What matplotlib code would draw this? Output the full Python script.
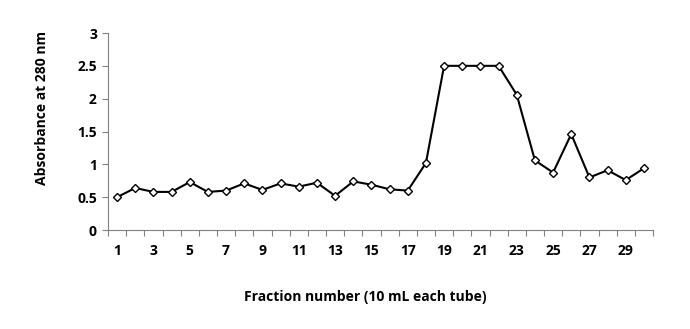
import matplotlib
matplotlib.use("Agg")
import matplotlib.pyplot as plt
import numpy as np

# 분획 번호와 280 nm 흡광도
fractions = np.arange(1, 31)
absorbance = [0.50, 0.64, 0.58, 0.58, 0.73, 0.58, 0.60, 0.71, 0.61, 0.71,
              0.66, 0.72, 0.52, 0.74, 0.69, 0.62, 0.60, 1.02, 2.50, 2.50,
              2.50, 2.50, 2.06, 1.06, 0.875, 1.46, 0.80, 0.91, 0.76, 0.94]
y_ticks = [0, 0.5, 1, 1.5, 2, 2.5, 3]
y_tick_labels = ["0", "0.5", "1", "1.5", "2", "2.5", "3"]

plt.rcParams["font.family"] = ["Open Sans", "DejaVu Sans"]

fig = plt.figure(figsize=(6.9, 3.29), dpi=100)
ax = fig.add_axes([108 / 690, 1 - 230 / 329, (653 - 108) / 690, (230 - 33) / 329])

ax.plot(fractions, absorbance, color="black", lw=1.5, marker="D", ms=4.5,
        mfc="white", mec="black", mew=1.0, zorder=3)

ax.set_xlim(0.5, 30.5)
ax.set_ylim(0, 3)
ax.set_yticks(y_ticks)
ax.set_yticklabels(y_tick_labels, fontsize=10, fontweight="bold")

# 엑셀식 범주축: 눈금선은 범주 경계에, 라벨은 홀수 번호에
ax.set_xticks(np.arange(0.5, 31, 1), minor=True)
ax.set_xticks(fractions[::2])
ax.set_xticklabels([str(f) for f in fractions[::2]], fontsize=10, fontweight="bold")
ax.tick_params(axis="x", which="major", length=0, pad=10)
ax.tick_params(axis="x", which="minor", length=4, color="#808080", width=0.8)
ax.tick_params(axis="y", length=4, color="#808080", width=0.8, pad=4)

for s in ("top", "right"):
    ax.spines[s].set_visible(False)
for s in ("left", "bottom"):
    ax.spines[s].set_color("#808080")
    ax.spines[s].set_linewidth(0.8)

fig.text(42 / 690, 1 - 108 / 329, "Absorbance at 280 nm", rotation=90,
         ha="center", va="center", fontsize=10, fontweight="bold")
fig.text(365 / 690, 1 - 297 / 329, "Fraction number (10 mL each tube)",
         ha="center", va="center", fontsize=10, fontweight="bold")

fig.savefig("out.png", dpi=100)
